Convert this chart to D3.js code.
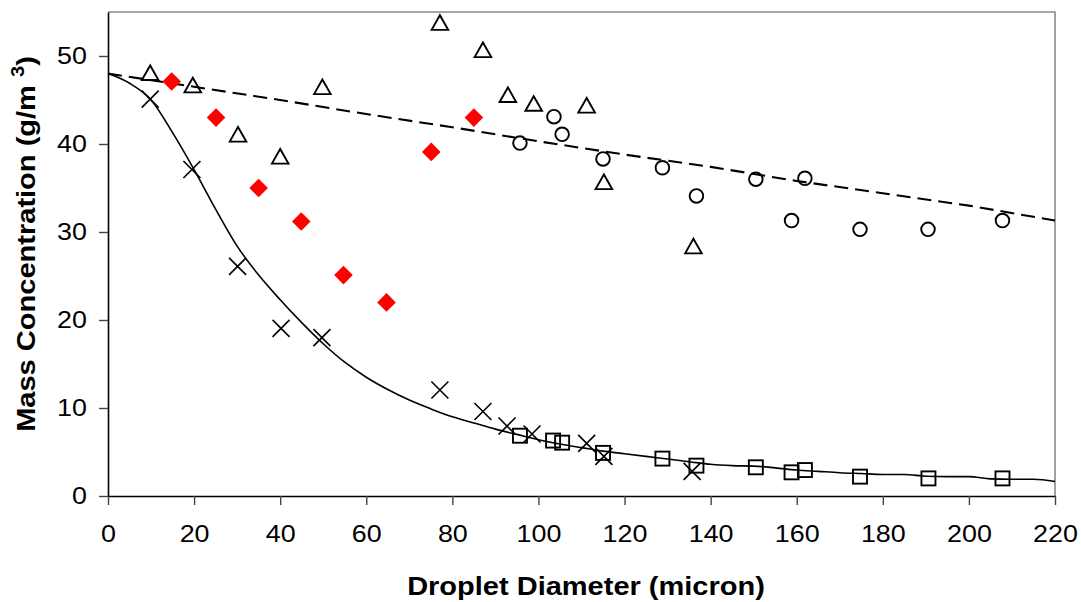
<!DOCTYPE html>
<html><head><meta charset="utf-8">
<script src="https://cdn.jsdelivr.net/npm/d3@7/dist/d3.min.js"></script>
<style>
body{margin:0;background:#fff;}
svg text{font-family:"Liberation Sans", Arial, sans-serif;fill:#000;}
</style>
</head><body>
<svg id="c" width="1081" height="602"></svg>
<script>
// ---- data ----
const xTicks = [0,20,40,60,80,100,120,140,160,180,200,220];
const yTicks = [0,10,20,30,40,50];

const triangleX = [9.8, 19.7, 30.2, 40.0, 49.8, 77.1, 87.1, 92.9, 98.9, 111.2, 115.2, 136.0];
const triangleY = [48.1, 46.7, 41.1, 38.6, 46.5, 53.8, 50.7, 45.6, 44.6, 44.4, 35.7, 28.4];

const crossX = [9.8, 19.5, 30.1, 40.2, 49.7, 77.1, 87.1, 92.7, 98.5, 111.2, 115.2, 135.7];
const crossY = [45.1, 37.1, 26.1, 19.05, 18.0, 12.05, 9.6, 7.95, 7.05, 5.98, 4.5, 2.8];

const diamondX = [14.8, 25.1, 35.0, 44.9, 54.7, 64.7, 75.1, 85.0];
const diamondY = [47.1, 43.0, 35.0, 31.2, 25.1, 22.0, 39.1, 43.0];

const circleX = [95.7, 103.6, 105.5, 115.0, 128.8, 136.7, 150.5, 158.8, 161.9, 174.7, 190.5, 207.8];
const circleY = [40.1, 43.1, 41.1, 38.3, 37.3, 34.1, 36.0, 31.3, 36.1, 30.3, 30.3, 31.3];

const squareX = [95.7, 103.4, 105.5, 115.0, 128.8, 136.7, 150.5, 158.8, 161.9, 174.7, 190.6, 207.8];
const squareY = [6.85, 6.3, 6.06, 4.9, 4.25, 3.45, 3.26, 2.69, 2.95, 2.2, 2.0, 2.0];

const solidX = [0,5,10,15,20,25,30,35,40,45,50,55,60,65,70,75,80,85,90,95,100,105,110,115,120,125,130,135,140,145,150,155,160,165,170,175,180,185,190,195,200,205,210,215,220];
const solidY = [48.0,46.9,45.0,41.3,37.1,32.6,28.4,25.1,22.3,19.7,17.3,15.2,13.5,12.1,10.9,9.9,9.0,8.3,7.6,7.0,6.4,5.9,5.5,5.1,4.8,4.5,4.2,3.9,3.6,3.45,3.4,3.2,2.95,2.8,2.65,2.55,2.45,2.45,2.25,2.2,2.2,1.95,1.9,1.9,1.65];

const dashX = [0,20,40,60,80,100,120,140,160,180,200,220];
const dashY = [48.0,46.5,45.0,43.4,41.9,40.3,38.8,37.4,35.8,34.4,33.0,31.3];

const xTitle = "Droplet Diameter (micron)";
const yTitleMain = "Mass Concentration (g/m ";
const yTitleSup = "3";
const yTitleEnd = ")";

// ---- chart ----
const svg = d3.select('#c');
const M = {l:108, r:1055, t:12, b:496};
const x = d3.scaleLinear().domain([0,220]).range([M.l, M.r]);
const y = d3.scaleLinear().domain([0,55]).range([M.b, M.t]);
const zip = (a,b) => a.map((v,i)=>[v,b[i]]);

// frame top/right (gray)
svg.append('path')
  .attr('d', `M${x(0)},${y(55)}H${x(220)}V${y(0)}`)
  .attr('fill','none').attr('stroke','#8a8a8a').attr('stroke-width',1.6);

// axes
const gx = svg.append('g').attr('transform',`translate(0,${M.b})`)
  .call(d3.axisBottom(x).tickValues(xTicks).tickSize(9).tickSizeOuter(0).tickPadding(20).tickFormat(d3.format('d')));
const gy = svg.append('g').attr('transform',`translate(${M.l},0)`)
  .call(d3.axisLeft(y).tickValues(yTicks).tickSize(9).tickSizeOuter(0).tickPadding(12).tickFormat(d3.format('d')));
[gx,gy].forEach(g=>{
  g.select('.domain').attr('stroke','#000').attr('stroke-width',1.6);
  g.selectAll('.tick line').attr('stroke','#444').attr('stroke-width',1.4);
  g.selectAll('.tick text').attr('font-size',24).attr('font-family','"Liberation Sans", Arial, sans-serif').attr('fill','#000')
    .each(function(){ const w=this.getComputedTextLength(); d3.select(this).attr('textLength', w*1.12).attr('lengthAdjust','spacingAndGlyphs'); });
});

// lines
const line = d3.line().x(d=>x(d[0])).y(d=>y(d[1]));
const smooth = d3.line().x(d=>x(d[0])).y(d=>y(d[1])).curve(d3.curveMonotoneX);
svg.append('path').datum(zip(dashX,dashY)).attr('d',line)
  .attr('fill','none').attr('stroke','#000').attr('stroke-width',2.1).attr('stroke-dasharray','14,7');
svg.append('path').datum(zip(solidX,solidY)).attr('d',smooth)
  .attr('fill','none').attr('stroke','#000').attr('stroke-width',1.6);

// markers
svg.append('g').selectAll('path').data(zip(triangleX,triangleY)).join('path')
  .attr('d', d=>{const cx=x(d[0]), cy=y(d[1]); return `M${cx-8.3},${cy+7.3}L${cx},${cy-7.3}L${cx+8.3},${cy+7.3}Z`;})
  .attr('fill','none').attr('stroke','#000').attr('stroke-width',1.9).attr('stroke-linejoin','miter');

svg.append('g').selectAll('circle').data(zip(circleX,circleY)).join('circle')
  .attr('cx',d=>x(d[0])).attr('cy',d=>y(d[1])).attr('r',6.8)
  .attr('fill','none').attr('stroke','#000').attr('stroke-width',1.9);

svg.append('g').selectAll('rect').data(zip(squareX,squareY)).join('rect')
  .attr('x',d=>x(d[0])-7).attr('y',d=>y(d[1])-7).attr('width',14).attr('height',14)
  .attr('fill','none').attr('stroke','#000').attr('stroke-width',1.9);

svg.append('g').selectAll('path').data(zip(crossX,crossY)).join('path')
  .attr('d', d=>{const cx=x(d[0]), cy=y(d[1]), s=8.5; return `M${cx-s},${cy-s}L${cx+s},${cy+s}M${cx-s},${cy+s}L${cx+s},${cy-s}`;})
  .attr('fill','none').attr('stroke','#000').attr('stroke-width',1.6);

svg.append('g').selectAll('path').data(zip(diamondX,diamondY)).join('path')
  .attr('d', d=>{const cx=x(d[0]), cy=y(d[1]), s=9.3; return `M${cx},${cy-s}L${cx+s},${cy}L${cx},${cy+s}L${cx-s},${cy}Z`;})
  .attr('fill','#ff0000').attr('stroke','none');

// titles
const xt = svg.append('g');
const xtt = xt.append('text').attr('text-anchor','middle').attr('font-size',25.5).attr('font-weight','bold').text(xTitle);
const xw = xtt.node().getComputedTextLength();
xt.attr('transform',`translate(586,595) scale(${358/xw},1)`);

const yt = svg.append('g');
const ytt = yt.append('text').attr('text-anchor','middle').attr('font-size',26).attr('font-weight','bold');
ytt.append('tspan').text(yTitleMain);
ytt.append('tspan').attr('font-size',18).attr('dy',-11).text(yTitleSup);
ytt.append('tspan').attr('dy',11).text(yTitleEnd);
const yw = ytt.node().getBBox().width;
yt.attr('transform',`translate(35,244) rotate(-90) scale(${376/yw},1)`);
</script>
</body></html>
